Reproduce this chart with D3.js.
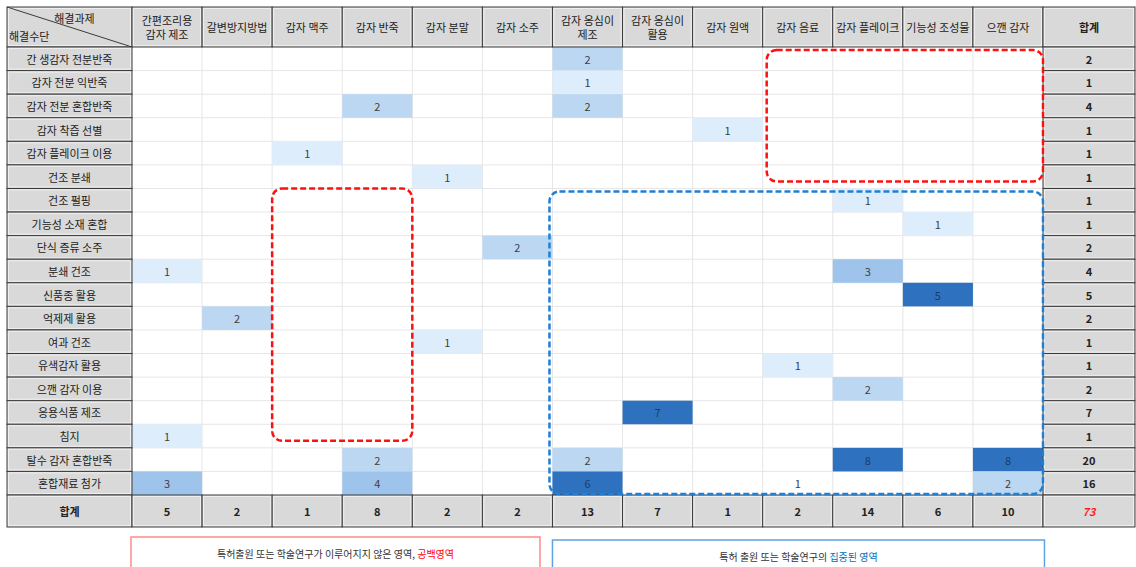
<!DOCTYPE html>
<html><head><meta charset="utf-8">
<script src="https://cdn.jsdelivr.net/npm/d3@7"></script>
<style>
html,body{margin:0;padding:0;background:#fff;}
svg{display:block;font-family:"Noto Sans CJK KR","Noto Sans",sans-serif;}
</style></head>
<body><svg id="chart" width="1136" height="567"></svg>
<script>
// ---- data ----
const columns = ["간편조리용\n감자 제조","갈변방지방법","감자 맥주","감자 반죽","감자 분말","감자 소주","감자 옹심이\n제조","감자 옹심이\n활용","감자 원액","감자 음료","감자 플레이크","기능성 조성물","으깬 감자"];
const rows = ["간 생감자 전분반죽","감자 전분 익반죽","감자 전분 혼합반죽","감자 착즙 선별","감자 플레이크 이용","건조 분쇄","건조 펄핑","기능성 소재 혼합","단식 증류 소주","분쇄 건조","신품종 활용","억제제 활용","여과 건조","유색감자 활용","으깬 감자 이용","응용식품 제조","침지","탈수 감자 혼합반죽","혼합재료 첨가"];
const values = [
  [0,0,0,0,0,0,2,0,0,0,0,0,0],
  [0,0,0,0,0,0,1,0,0,0,0,0,0],
  [0,0,0,2,0,0,2,0,0,0,0,0,0],
  [0,0,0,0,0,0,0,0,1,0,0,0,0],
  [0,0,1,0,0,0,0,0,0,0,0,0,0],
  [0,0,0,0,1,0,0,0,0,0,0,0,0],
  [0,0,0,0,0,0,0,0,0,0,1,0,0],
  [0,0,0,0,0,0,0,0,0,0,0,1,0],
  [0,0,0,0,0,2,0,0,0,0,0,0,0],
  [1,0,0,0,0,0,0,0,0,0,3,0,0],
  [0,0,0,0,0,0,0,0,0,0,0,5,0],
  [0,2,0,0,0,0,0,0,0,0,0,0,0],
  [0,0,0,0,1,0,0,0,0,0,0,0,0],
  [0,0,0,0,0,0,0,0,0,1,0,0,0],
  [0,0,0,0,0,0,0,0,0,0,2,0,0],
  [0,0,0,0,0,0,0,7,0,0,0,0,0],
  [1,0,0,0,0,0,0,0,0,0,0,0,0],
  [0,0,0,2,0,0,2,0,0,0,8,0,8],
  [3,0,0,4,0,0,6,0,0,1,0,0,2]
];
// cells left without shading in the source table: [row, column]
const unshaded = [["혼합재료 첨가","감자 음료"]];
const totalLabel = "합계";
const cornerTop = "해결과제";
const cornerBottom = "해결수단";
// highlighted regions: [first column, last column, first row, last row]
const blankRegions = [
  ["감자 음료","으깬 감자","간 생감자 전분반죽","건조 분쇄"],
  ["감자 맥주","감자 반죽","건조 펄핑","침지"]
];
const focusRegions = [
  ["감자 옹심이\n제조","으깬 감자","건조 펄핑","혼합재료 첨가"]
];
const legendBlank = ["특허출원 또는 학술연구가 이루어지지 않은 영역, ","공백영역"];
const legendFocus = ["특허 출원 또는 학술연구의 ","집중된 영역"];

// ---- layout ----
const svg = d3.select("#chart");
const L0 = 7, labelW = 125, T0 = 7, headH = 40;
const gridRight = 1043, gridBottom = 495, totalW = 92, totalH = 32;
const x = d3.scaleBand().domain(columns).range([L0+labelW, gridRight]);
const y = d3.scaleBand().domain(rows).range([T0+headH, gridBottom]);
const color = d3.scaleThreshold().domain([2,3,5]).range(["#ddedfb","#bcd7f1","#9ec4ec","#2e72bf"]);
const gray = "#d9d9d9", dark = "#3c3c3c", fs = 11;

const rowTotals = values.map(r => d3.sum(r));
const colTotals = columns.map((c,j) => d3.sum(values, r => r[j]));
const grand = d3.sum(rowTotals);

// data cell background grid
const gGrid = svg.append("g");
gGrid.selectAll("line.v").data(columns.slice(1)).join("line")
  .attr("x1", d=>x(d)).attr("x2", d=>x(d)).attr("y1", y.range()[0]).attr("y2", gridBottom)
  .attr("stroke","#e6e6e6");
gGrid.selectAll("line.h").data(rows.slice(1)).join("line")
  .attr("x1", x.range()[0]).attr("x2", gridRight).attr("y1", d=>y(d)).attr("y2", d=>y(d))
  .attr("stroke","#e6e6e6");

// cells
const isPlain = (r,c) => unshaded.some(u => u[0]===r && u[1]===c);
const cells = [];
values.forEach((r,i)=>r.forEach((v,j)=>{ if(v>0) cells.push({row:rows[i], col:columns[j], v}); }));
const gCells = svg.append("g");
gCells.selectAll("rect").data(cells.filter(d=>!isPlain(d.row,d.col))).join("rect")
  .attr("x", d=>x(d.col)).attr("y", d=>y(d.row))
  .attr("width", x.bandwidth()).attr("height", y.bandwidth())
  .attr("fill", d=>color(d.v));
gCells.selectAll("text").data(cells).join("text")
  .attr("x", d=>x(d.col)+x.bandwidth()/2).attr("y", d=>y(d.row)+y.bandwidth()/2)
  .attr("text-anchor","middle").attr("dominant-baseline","central")
  .attr("font-size", fs).attr("fill", d=> d.v>=5 ? "#1d3d66" : "#404040").text(d=>d.v);

// gray header cells helper
function grayCell(g, x0, y0, w, h){
  g.append("rect").attr("x",x0).attr("y",y0).attr("width",w).attr("height",h)
    .attr("fill",gray).attr("stroke",dark).attr("stroke-width",1);
  g.append("rect").attr("x",x0+1.5).attr("y",y0+1.5).attr("width",w-3).attr("height",h-3)
    .attr("fill","none").attr("stroke","#efefef").attr("stroke-width",1);
}
const gHead = svg.append("g");
// corner
grayCell(gHead, L0, T0, labelW, headH);
gHead.append("line").attr("x1",L0).attr("y1",T0).attr("x2",L0+labelW).attr("y2",T0+headH)
  .attr("stroke",dark).attr("stroke-width",1);
gHead.append("text").attr("x",L0+labelW*0.54).attr("y",T0+11).attr("text-anchor","middle")
  .attr("dominant-baseline","central").attr("font-size",fs).attr("fill","#222").text(cornerTop);
gHead.append("text").attr("x",L0+2).attr("y",T0+29).attr("dominant-baseline","central")
  .attr("font-size",fs).attr("fill","#222").text(cornerBottom);
// column headers
columns.forEach(c=>{
  grayCell(gHead, x(c), T0, x.bandwidth(), headH);
  const lines = c.split("\n");
  lines.forEach((t,k)=>{
    gHead.append("text").attr("x",x(c)+x.bandwidth()/2)
      .attr("y", T0+headH/2 + (k-(lines.length-1)/2)*14)
      .attr("text-anchor","middle").attr("dominant-baseline","central")
      .attr("font-size",fs).attr("fill","#222").text(t);
  });
});
grayCell(gHead, gridRight, T0, totalW, headH);
gHead.append("text").attr("x",gridRight+totalW/2).attr("y",T0+headH/2).attr("text-anchor","middle")
  .attr("dominant-baseline","central").attr("font-size",fs).attr("font-weight","bold").attr("fill","#222").text(totalLabel);
// row headers + row totals
rows.forEach((r,i)=>{
  grayCell(gHead, L0, y(r), labelW, y.bandwidth());
  gHead.append("text").attr("x",L0+labelW/2).attr("y",y(r)+y.bandwidth()/2)
    .attr("text-anchor","middle").attr("dominant-baseline","central")
    .attr("font-size",fs).attr("fill","#222").text(r);
  grayCell(gHead, gridRight, y(r), totalW, y.bandwidth());
  gHead.append("text").attr("x",gridRight+totalW/2).attr("y",y(r)+y.bandwidth()/2)
    .attr("text-anchor","middle").attr("dominant-baseline","central")
    .attr("font-size",fs).attr("font-weight","bold").attr("fill","#222").text(rowTotals[i]);
});
// total row
grayCell(gHead, L0, gridBottom, labelW, totalH);
gHead.append("text").attr("x",L0+labelW/2).attr("y",gridBottom+totalH/2).attr("text-anchor","middle")
  .attr("dominant-baseline","central").attr("font-size",fs).attr("font-weight","bold").attr("fill","#222").text(totalLabel);
columns.forEach((c,j)=>{
  grayCell(gHead, x(c), gridBottom, x.bandwidth(), totalH);
  gHead.append("text").attr("x",x(c)+x.bandwidth()/2).attr("y",gridBottom+totalH/2)
    .attr("text-anchor","middle").attr("dominant-baseline","central")
    .attr("font-size",fs).attr("font-weight","bold").attr("fill","#222").text(colTotals[j]);
});
grayCell(gHead, gridRight, gridBottom, totalW, totalH);
gHead.append("text").attr("x",gridRight+totalW/2).attr("y",gridBottom+totalH/2).attr("text-anchor","middle")
  .attr("dominant-baseline","central").attr("font-size",fs).attr("font-weight","bold")
  .attr("fill","#ff1a1a").attr("font-style","italic").text(grand);

// dashed regions
function region(reg, stroke, inset){
  const [c0,c1,r0,r1] = reg;
  const x0 = x(c0)+inset[0], x1 = x(c1)+x.bandwidth()+inset[1];
  const y0 = y(r0)+inset[2], y1 = y(r1)+y.bandwidth()+inset[3];
  svg.append("rect").attr("x",x0).attr("y",y0).attr("width",x1-x0).attr("height",y1-y0)
    .attr("rx",10).attr("ry",10).attr("fill","none").attr("stroke",stroke)
    .attr("stroke-width",2.5).attr("stroke-dasharray","6,3");
}
region(blankRegions[0], "#ff1010", [4,0,3,-7]);
region(blankRegions[1], "#ff1010", [0,0,0,-7]);
region(focusRegions[0], "#1f7fd4", [-3,0,3,-1]);

// legend
const gL = svg.append("g");
const lb = {x: x(columns[0])-1, y: 537, w: 409};
gL.append("rect").attr("x",lb.x).attr("y",lb.y).attr("width",lb.w).attr("height",50)
  .attr("fill","#fff").attr("stroke","#ff8a8a").attr("stroke-width",1.5);
const t1 = gL.append("text").attr("x",lb.x+lb.w/2).attr("y",553).attr("text-anchor","middle")
  .attr("dominant-baseline","central").attr("font-size",10).attr("fill","#333");
t1.append("tspan").text(legendBlank[0]);
t1.append("tspan").attr("fill","#ff0000").text(legendBlank[1]);
const fb = {x: x(columns[6]), y: 540, w: 492};
gL.append("rect").attr("x",fb.x).attr("y",fb.y).attr("width",fb.w).attr("height",50)
  .attr("fill","#fff").attr("stroke","#5ea3e2").attr("stroke-width",1.5);
const t2 = gL.append("text").attr("x",fb.x+fb.w/2).attr("y",556).attr("text-anchor","middle")
  .attr("dominant-baseline","central").attr("font-size",10).attr("fill","#333");
t2.append("tspan").text(legendFocus[0]);
t2.append("tspan").attr("fill","#0070c0").text(legendFocus[1]);
</script>
</body></html>
